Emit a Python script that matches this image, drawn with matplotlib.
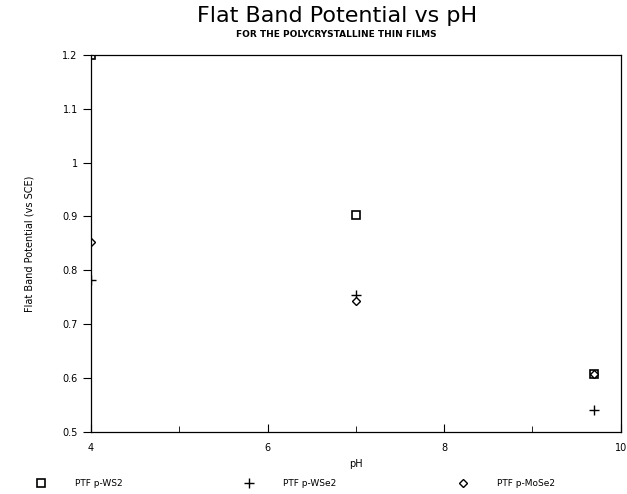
import matplotlib
matplotlib.use("Agg")
import matplotlib.pyplot as plt

ph = [4, 7, 9.7]
ws2 = [1.2, 0.903, 0.608]
wse2 = [0.782, 0.755, 0.54]
mose2 = [0.852, 0.744, 0.608]

fig = plt.figure(figsize=(6.27, 4.94), dpi=100)
ax = fig.add_axes([0.145, 0.1255, 0.845, 0.7635])

ax.plot(ph, ws2, ls="none", marker="s", mfc="white", mec="black", ms=5.5, mew=1.2, label="PTF p-WS2")
ax.plot(ph, wse2, ls="none", marker="+", color="black", ms=7, mew=1.0, label="PTF p-WSe2")
ax.plot(ph, mose2, ls="none", marker="D", mfc="white", mec="black", ms=4, mew=1.0, label="PTF p-MoSe2")

ax.set_xlim(4, 10)
ax.set_ylim(0.5, 1.2)
ax.set_xticks([4, 6, 8, 10])
ax.set_xticklabels(["4", "6", "8", "10"])
ax.set_xticks([5, 7, 9], minor=True)
ax.set_yticks([0.5, 0.6, 0.7, 0.8, 0.9, 1.0, 1.1, 1.2])
ax.set_yticklabels(["0.5", "0.6", "0.7", "0.8", "0.9", "1", "1.1", "1.2"])
ax.tick_params(labelsize=7, width=0.8, length=6)
ax.tick_params(axis="x", direction="in", pad=8)
ax.tick_params(axis="x", which="minor", direction="in", length=4)
for s in ax.spines.values():
    s.set_linewidth(0.9)

ax.set_ylabel("Flat Band Potential (vs SCE)", fontsize=7, labelpad=20)
ax.set_xlabel("pH", fontsize=7, labelpad=4)

fig.text(0.537, 0.968, "Flat Band Potential vs pH", ha="center", va="center", fontsize=16, color="black")
fig.text(0.537, 0.93, "FOR THE POLYCRYSTALLINE THIN FILMS", ha="center", va="center", fontsize=6.5, fontweight="bold")

fig.legend(loc="lower center", bbox_to_anchor=(0.468, -0.005), ncol=3, frameon=False,
           fontsize=6.5, columnspacing=13, handletextpad=2.8)

fig.savefig("out.png", dpi=100)
